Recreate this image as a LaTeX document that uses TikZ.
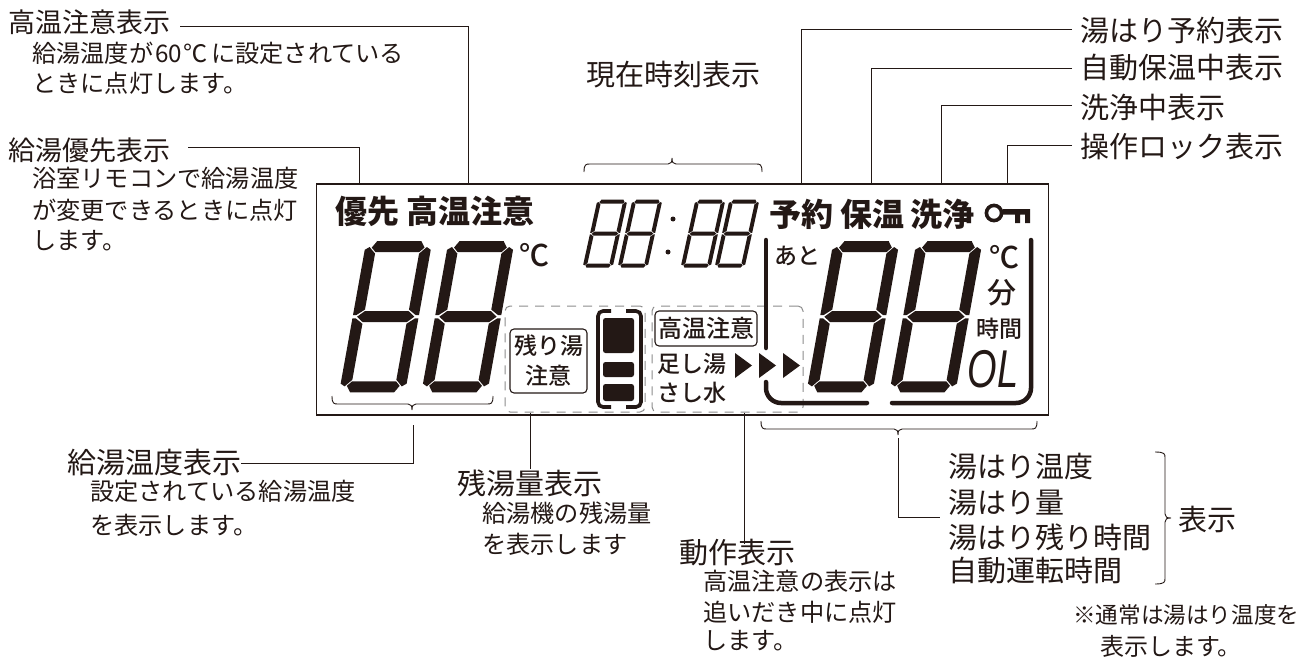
\documentclass[tikz,border=0pt]{standalone}
\usepackage{fontspec}
\setmainfont{Noto Sans CJK JP}
\newfontfamily\lcdfont{Noto Sans CJK JP Medium}
\newfontfamily\latinit{Liberation Sans}
\definecolor{lcdink}{HTML}{231815}
\definecolor{dashgray}{HTML}{8C8C8C}
\newcommand{\fsz}[1]{\fontsize{#1}{#1}\selectfont}
\newcommand{\segdigit}[6]{%
  \begin{scope}[shift={(#1,#2)},xslant=#6]
    \pgfmathsetmacro{\segc}{.12*#5+.3}
    \foreach \sy in {-1,1}
      \fill[lcdink] ({-#3+#5},{\sy*#4}) -- ({#3-#5},{\sy*#4}) -- ({#3-.6*#5},{\sy*(#4-.6*#5)}) -- ({#3-#5},{\sy*(#4-#5)}) -- ({-#3+#5},{\sy*(#4-#5)}) -- ({-#3+.6*#5},{\sy*(#4-.6*#5)}) -- cycle;
    \fill[lcdink] ({-#3+#5},{-.5*#5}) -- ({#3-#5},{-.5*#5}) -- ({#3-.4*#5},0) -- ({#3-#5},{.5*#5}) -- ({-#3+#5},{.5*#5}) -- ({-#3+.4*#5},0) -- cycle;
    \foreach \sx in {-1,1} \foreach \sv in {-1,1}
      \fill[lcdink] ({\sx*(#3-#5)},{\sv*(#4-#5-\segc)}) -- ({\sx*(#3-.4*#5)},{\sv*(#4-.4*#5-\segc)}) -- ({\sx*#3},{\sv*(#4-.8*#5)}) -- ({\sx*#3},{\sv*\segc}) -- ({\sx*(#3-.3*#5)},{\sv*\segc}) -- ({\sx*(#3-#5)},{\sv*(.5*#5+\segc)}) -- cycle;
  \end{scope}}
\newcommand{\curlybrace}[4]{%
  \draw[curly,#1] (-#2,0) .. controls (-#2,#4) and (-#2+2,#4) .. (-#2+6,#4) -- (-4,#4)
    .. controls (-1,#4) and (0,#4+2) .. (0,#4+6) .. controls (0,#4+2) and (1,#4) .. (4,#4)
    -- (#3-6,#4) .. controls (#3-2,#4) and (#3,#4) .. (#3,0);}
\tikzset{
  lblhead/.style={anchor=west,inner sep=0pt,text=lcdink,font=\fsz{29}},
  lblbody/.style={anchor=west,inner sep=0pt,text=lcdink,font=\fsz{24.2}},
  lcdmark/.style={inner sep=0pt,text=lcdink,font=\fsz{32}\bfseries},
  lcdtext/.style={inner sep=0pt,text=lcdink,font=\lcdfont\fsz{23}},
  leader/.style={draw=lcdink,line width=1pt},
  dashbox/.style={draw=dashgray,line width=1pt,dash pattern=on 9pt off 7pt,rounded corners=5pt,inner sep=0pt},
  lampbox/.style={draw=lcdink,line width=1.1pt,rounded corners=4pt,inner sep=0pt},
  curly/.style={draw=lcdink,line width=.9pt},
  bar/.style={draw=lcdink,line width=4.5pt,line cap=round},
  tri/.style={fill=lcdink}
}
\begin{document}
\begin{tikzpicture}[x=1pt,y=-1pt]
  \useasboundingbox (0,0) rectangle (1300,661);
  \node[draw=lcdink,line width=1.3pt,inner sep=0pt,minimum width=732pt,minimum height=231pt] (lcd) at (682.5,299.5) {};
  \node[dashbox,minimum width=140pt,minimum height=106pt] (resbox) at (575,359) {};
  \node[dashbox,minimum width=151pt,minimum height=106pt] (actbox) at (727.5,359) {};
  % digits
  \segdigit{385.7}{316.7}{33}{75.7}{11}{.18}
  \segdigit{468}{316.7}{33}{75.7}{11}{.18}
  \segdigit{853}{316.7}{33}{75.7}{11}{.18}
  \segdigit{936}{316.7}{33}{75.7}{11}{.18}
  \segdigit{605}{233.7}{15}{34}{4}{.22}
  \segdigit{640}{233.7}{15}{34}{4}{.22}
  \segdigit{703}{233.7}{15}{34}{4}{.22}
  \segdigit{737}{233.7}{15}{34}{4}{.22}
  \fill[lcdink] (673,219) circle (2.5) (668,252) circle (2.5);
  % marks on the panel
  \node[lcdmark] (mPrio) at (367.5,211) {優先};
  \node[lcdmark] (mHot) at (470,211) {高温注意};
  \node[lcdmark] (mRes) at (801,214) {予約};
  \node[lcdmark] (mKeep) at (872.5,214) {保温};
  \node[lcdmark] (mWash) at (942.5,214) {洗浄};
  \node[lcdtext,font=\lcdfont\fsz{30}] (cL) at (534,255) {℃};
  \node[lcdtext,font=\lcdfont\fsz{23}] (mAto) at (797,256) {あと};
  \node[lcdtext,font=\lcdfont\fsz{30}] (cR) at (1004,257) {℃};
  \node[lcdtext,font=\lcdfont\fsz{29}] (mMin) at (1002,293) {分};
  \node[lcdtext] (mHour) at (999,329) {時間};
  \node[inner sep=0pt,text=lcdink,font=\latinit\itshape\fsz{38},yscale=1.4,transform shape] (mOL) at (993,369) {OL};
  % key
  \draw[lcdink,line width=3.6pt] (994,213) circle (7.6);
  \fill[lcdink] (1003,209) rectangle (1030,214.5) (1015,214) rectangle (1020,223) (1025,214) rectangle (1030,223);
  % remaining water
  \node[lampbox,minimum width=77pt,minimum height=64pt] (lowbox) at (548.5,361) {};
  \node[lcdtext] (lowA) at (548.5,346) {残り湯};
  \node[lcdtext] (lowB) at (548.5,376) {注意};
  \draw[lcdink,line width=3.6pt,rounded corners=5pt] (611,311) -- (598,311) -- (598,407) -- (611,407);
  \draw[lcdink,line width=3.6pt,rounded corners=5pt] (626,311) -- (641,311) -- (641,407) -- (626,407);
  \fill[lcdink,rounded corners=2.5pt] (603,318) rectangle (634,353) (603,362) rectangle (634,377) (603,384) rectangle (634,401);
  % operation
  \node[lampbox,minimum width=102pt,minimum height=35pt] (hotbox) at (706,328.5) {};
  \node[lcdtext,font=\lcdfont\fsz{24}] (hotT) at (706,328.5) {高温注意};
  \node[lcdtext,anchor=west] (addH) at (657,364) {足し湯};
  \node[lcdtext,anchor=west] (addC) at (657,393) {さし水};
  \foreach \tx in {735,759,783}
    \fill[tri] (\tx,353) -- (\tx+17,365.5) -- (\tx,378) -- cycle;
  \draw[bar] (766,240) -- (766,348);
  \draw[bar] (766,382) -- (766,388) arc (180:90:15) -- (867,403);
  \draw[bar] (892,403) -- (1016,403) arc (90:0:15) -- (1031,240);
  % braces
  \begin{scope}[shift={(672,172)},yscale=-1] \curlybrace{}{88}{90}{8} \end{scope}
  \begin{scope}[shift={(412,396)}] \curlybrace{}{80}{81}{8} \end{scope}
  \begin{scope}[shift={(898,421)}] \curlybrace{}{137}{139}{8} \end{scope}
  \begin{scope}[shift={(1155,518)},rotate=90] \curlybrace{}{66}{66}{10} \end{scope}
  % labels round the panel
  \node[lblhead,font=\fsz{27}] (lblHot) at (8,22) {高温注意表示};
  \node[lblbody] at (32,53) {給湯温度が\hspace{2pt}60\hspace{1pt}℃\hspace{4pt}に設定されている};
  \node[lblbody] at (32,83) {ときに点灯します。};
  \node[lblhead,font=\fsz{27}] (lblPrio) at (8,150) {給湯優先表示};
  \node[lblbody] at (32,178) {浴室リモコンで給湯温度};
  \node[lblbody] at (32,210) {が変更できるときに点灯};
  \node[lblbody] at (32,241) {します。};
  \node[lblhead,anchor=center] (lblClock) at (673.5,75) {現在時刻表示};
  \node[lblhead] (lblRes) at (1080,30) {湯はり予約表示};
  \node[lblhead] (lblKeep) at (1080,68) {自動保温中表示};
  \node[lblhead] (lblWash) at (1080,107) {洗浄中表示};
  \node[lblhead] (lblLock) at (1080,146) {操作ロック表示};
  \node[lblhead] (lblTemp) at (67,463) {給湯温度表示};
  \node[lblbody] at (90,491) {設定されている給湯温度};
  \node[lblbody] at (90,525) {を表示します。};
  \node[lblhead,anchor=center] (lblRem) at (530,483) {残湯量表示};
  \node[lblbody] at (482,513) {給湯機の残湯量};
  \node[lblbody] at (482,544) {を表示します};
  \node[lblhead,anchor=center] (lblAct) at (737.5,553) {動作表示};
  \node[lblbody] at (703,581) {高温注意の表示は};
  \node[lblbody] at (703,612) {追いだき中に点灯};
  \node[lblbody] at (703,641) {します。};
  \node[lblhead] (lblBath) at (948,467) {湯はり温度};
  \node[lblhead] at (948,503) {湯はり量};
  \node[lblhead] at (948,537) {湯はり残り時間};
  \node[lblhead] at (948,571) {自動運転時間};
  \node[lblhead] at (1178,519) {表示};
  \node[lblbody,font=\fsz{22.6}] at (1073,615) {※通常は湯はり温度を};
  \node[lblbody,font=\fsz{24}] at (1100,646) {表示します。};
  % leaders
  \coordinate (fHot) at (468,184);
  \coordinate (fPrio) at (359,184);
  \coordinate (fRes) at (801,184);
  \coordinate (fKeep) at (871,184);
  \coordinate (fWash) at (941,184);
  \coordinate (fLock) at (1007,184);
  \coordinate (tipTemp) at (413,425);
  \coordinate (tipBath) at (898,438);
  \draw[leader] ([shift={(10,5)}]lblHot.east) -| (fHot);
  \draw[leader] ([shift={(18,-3)}]lblPrio.east) -| (fPrio);
  \draw[leader] ([shift={(-8,0)}]lblRes.west) -| (fRes);
  \draw[leader] ([shift={(-8,0)}]lblKeep.west) -| (fKeep);
  \draw[leader] ([shift={(-8,-2)}]lblWash.west) -| (fWash);
  \draw[leader] ([shift={(-8,-1)}]lblLock.west) -| (fLock);
  \draw[leader] (tipTemp) |- (lblTemp.east);
  \draw[leader] (tipBath) |- ([shift={(-8,50)}]lblBath.west);
  \draw[leader] (lblRem.north |- resbox.south) -- (lblRem.north);
  \draw[leader] ([xshift=16.5pt]actbox.south) -- ([xshift=6.5pt,yshift=-5pt]lblAct.north);
\end{tikzpicture}
\end{document}
